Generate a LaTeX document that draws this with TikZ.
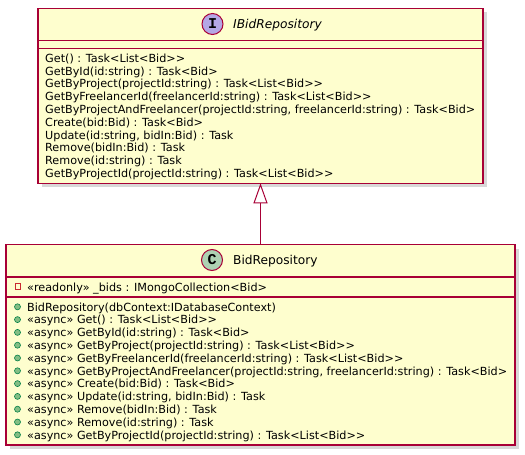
\documentclass[tikz,border=0pt]{standalone}
\usepackage{fontspec}
\setmainfont{DejaVu Sans}[Ligatures=TeXOff]
\newfontfamily\badgefont{Liberation Mono}
\usetikzlibrary{arrows.meta,shadows}
\definecolor{umlfill}{HTML}{FEFECE}
\definecolor{umlborder}{HTML}{A80036}
\definecolor{ifacefill}{HTML}{B4A7E5}
\definecolor{classfill}{HTML}{ADD1B2}
\definecolor{pubfill}{HTML}{84BE84}
\definecolor{pubborder}{HTML}{038048}
\definecolor{privborder}{HTML}{C82930}
\begin{document}
\begin{tikzpicture}[x=1pt,y=-1pt,
    umlbox/.style={draw=umlborder,fill=umlfill,line width=1.5pt,inner sep=0pt,outer sep=0pt,anchor=north west,
      drop shadow={shadow xshift=4pt,shadow yshift=-4pt,fill=black!30}},
    umlline/.style={draw=umlborder,line width=1.5pt},
    badge/.style={circle,draw=umlborder,line width=1pt,minimum size=21pt,inner sep=0pt,
      font=\badgefont\bfseries\fontsize{15}{15}\selectfont},
    title/.style={anchor=base west,inner sep=0pt,font=\fontsize{12.2}{14}\selectfont},
    member/.style={anchor=base west,inner sep=0pt,font=\fontsize{11.2}{13}\selectfont},
    pub/.style={circle,draw=pubborder,fill=pubfill,line width=0.6pt,minimum size=6pt,inner sep=0pt},
    priv/.style={rectangle,draw=privborder,line width=1pt,minimum size=5.5pt,inner sep=0pt},
    inherit/.style={draw=umlborder,line width=1pt,-{Triangle[length=20pt,width=14pt,fill=white]}}]
  \useasboundingbox (0,0) rectangle (525,455);

  % interface
  \node[umlbox,minimum width=445pt,minimum height=175pt] (ibid) at (38,8.3) {};
  \draw[umlline] (38,40.7) -- (483,40.7);
  \draw[umlline] (38,48.7) -- (483,48.7);
  \node[badge,fill=ifacefill] (ibadge) at (212.5,24) {I};
  \node[title,font=\fontsize{12.2}{14}\selectfont\itshape] (ititle) at (233,28.4) {IBidRepository};
  \foreach \txt [count=\i] in {{Get() : Task<List<Bid>>},
      {GetById(id:string) : Task<Bid>},
      {GetByProject(projectId:string) : Task<List<Bid>>},
      {GetByFreelancerId(freelancerId:string) : Task<List<Bid>>},
      {GetByProjectAndFreelancer(projectId:string, freelancerId:string) : Task<Bid>},
      {Create(bid:Bid) : Task<Bid>},
      {Update(id:string, bidIn:Bid) : Task},
      {Remove(bidIn:Bid) : Task},
      {Remove(id:string) : Task},
      {GetByProjectId(projectId:string) : Task<List<Bid>>}}
    \node[member] (im\i) at (45,{49.5+12.8*\i}) {\txt};

  % class
  \node[umlbox,minimum width=509pt,minimum height=200.5pt] (brepo) at (6,244.5) {};
  \draw[umlline] (6,277) -- (515,277);
  \draw[umlline] (6,297) -- (515,297);
  \node[badge,fill=classfill] (cbadge) at (212,260) {C};
  \node[title] (ctitle) at (233,264.4) {BidRepository};
  \node[priv] (bf) at (18,286.7) {};
  \node[member] (bfield) at (27,291) {«readonly» \_bids : IMongoCollection<Bid>};
  \foreach \txt [count=\i] in {{BidRepository(dbContext:IDatabaseContext)},
      {«async» Get() : Task<List<Bid>>},
      {«async» GetById(id:string) : Task<Bid>},
      {«async» GetByProject(projectId:string) : Task<List<Bid>>},
      {«async» GetByFreelancerId(freelancerId:string) : Task<List<Bid>>},
      {«async» GetByProjectAndFreelancer(projectId:string, freelancerId:string) : Task<Bid>},
      {«async» Create(bid:Bid) : Task<Bid>},
      {«async» Update(id:string, bidIn:Bid) : Task},
      {«async» Remove(bidIn:Bid) : Task},
      {«async» Remove(id:string) : Task},
      {«async» GetByProjectId(projectId:string) : Task<List<Bid>>}}
  {
    \node[pub] (bp\i) at (17.5,{294+12.8*\i}) {};
    \node[member] (bm\i) at (27,{298.2+12.8*\i}) {\txt};
  }

  \draw[inherit] (brepo.north) -- (ibid.south);
\end{tikzpicture}
\end{document}
